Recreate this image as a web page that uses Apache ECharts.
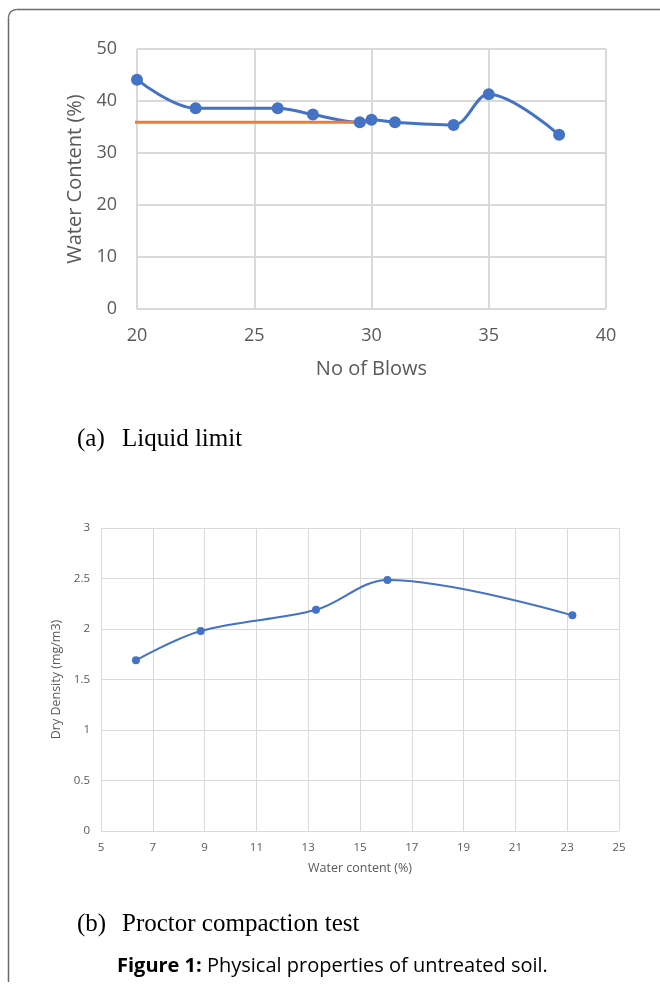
<!DOCTYPE html>
<html>
<head>
<meta charset="utf-8">
<script src="https://cdn.jsdelivr.net/npm/echarts@6/dist/echarts.min.js"></script>
<style>
html,body{margin:0;padding:0;background:#fff;}
#c{width:660px;height:985px;}
</style>
</head>
<body>
<div id="c"></div>
<script>
// Chart (a) Liquid limit
const blows = [20, 22.5, 26, 27.5, 29.5, 30, 31, 33.5, 35, 38];
const waterContentLL = [44.1, 38.6, 38.6, 37.4, 35.9, 36.4, 35.9, 35.4, 41.3, 33.5];
const liquidLimitLineX = [18.9, 29.8];
const liquidLimitValue = 35.9;

// Chart (b) Proctor compaction
const waterContentPC = [6.35, 8.85, 13.3, 16.06, 23.2];
const dryDensity = [1.69, 1.98, 2.19, 2.485, 2.135];

const blue = '#4472C4';
const orange = '#ED7D31';
const labelColor = '#595959';
const gridColor = '#d9d9d9';

const chart = echarts.init(document.getElementById('c'), null, {renderer: 'canvas'});

const option = {
  backgroundColor: '#fff',
  animation: false,
  grid: [
    {left: 137, top: 49, width: 469, height: 260},
    {left: 101, top: 528, width: 518, height: 303}
  ],
  xAxis: [
    {
      gridIndex: 0, type: 'value', min: 20, max: 40, interval: 5,
      name: 'No of Blows', nameLocation: 'middle', nameGap: 50,
      nameTextStyle: {fontFamily: 'Open Sans', fontSize: 20, color: labelColor},
      axisLine: {show: false}, axisTick: {show: false},
      axisLabel: {fontFamily: 'Open Sans', fontSize: 18, color: labelColor, margin: 18},
      splitLine: {show: true, lineStyle: {color: gridColor, width: 2}}
    },
    {
      gridIndex: 1, type: 'value', min: 5, max: 25, interval: 2,
      name: 'Water content (%)', nameLocation: 'middle', nameGap: 31,
      nameTextStyle: {fontFamily: 'Open Sans', fontSize: 12.5, color: labelColor},
      axisLine: {show: false}, axisTick: {show: false},
      axisLabel: {fontFamily: 'Open Sans', fontSize: 11.5, color: labelColor, margin: 11},
      splitLine: {show: true, lineStyle: {color: gridColor, width: 1}}
    }
  ],
  yAxis: [
    {
      gridIndex: 0, type: 'value', min: 0, max: 50, interval: 10,
      name: 'Water Content (%)', nameLocation: 'middle', nameGap: 49,
      nameTextStyle: {fontFamily: 'Open Sans', fontSize: 20, color: labelColor},
      axisLine: {show: false}, axisTick: {show: false},
      axisLabel: {fontFamily: 'Open Sans', fontSize: 18, color: labelColor, margin: 20},
      splitLine: {show: true, lineStyle: {color: gridColor, width: 2}}
    },
    {
      gridIndex: 1, type: 'value', min: 0, max: 3, interval: 0.5,
      name: 'Dry Density (mg/m3)', nameLocation: 'middle', nameGap: 32,
      nameTextStyle: {fontFamily: 'Open Sans', fontSize: 12.5, color: labelColor},
      axisLine: {show: false}, axisTick: {show: false},
      axisLabel: {fontFamily: 'Open Sans', fontSize: 11.5, color: labelColor, margin: 11},
      splitLine: {show: true, lineStyle: {color: gridColor, width: 1}}
    }
  ],
  series: [
    {
      type: 'line', xAxisIndex: 0, yAxisIndex: 0,
      data: blows.map((b, i) => [b, waterContentLL[i]]),
      smooth: 0.35,
      symbol: 'circle', symbolSize: 12,
      lineStyle: {color: blue, width: 3},
      itemStyle: {color: blue}
    },
    {
      type: 'line', xAxisIndex: 0, yAxisIndex: 0,
      data: liquidLimitLineX.map(x => [x, liquidLimitValue]),
      clip: false, symbol: 'none',
      lineStyle: {color: orange, width: 3}
    },
    {
      type: 'line', xAxisIndex: 1, yAxisIndex: 1,
      data: waterContentPC.map((w, i) => [w, dryDensity[i]]),
      smooth: 0.35,
      symbol: 'circle', symbolSize: 8,
      lineStyle: {color: blue, width: 2},
      itemStyle: {color: blue}
    }
  ],
  graphic: [
    {
      type: 'polyline',
      shape: {points: [[8.5, 982], [8.5, 17.5]]},
      style: {fill: null, stroke: '#6b6b6b', lineWidth: 1.5}
    },
    {
      type: 'polyline',
      shape: {points: [[16.5, 9.5], [662, 9.5]]},
      style: {fill: null, stroke: '#6b6b6b', lineWidth: 1.5}
    },
    {
      type: 'arc',
      shape: {cx: 16.5, cy: 17.5, r: 8, startAngle: Math.PI, endAngle: Math.PI * 1.5},
      style: {fill: null, stroke: '#6b6b6b', lineWidth: 1.5}
    },
    {
      type: 'text', left: 77, top: 427,
      style: {text: '(a)', font: '25px "Liberation Serif"', fill: '#000'}
    },
    {
      type: 'text', left: 122, top: 427,
      style: {text: 'Liquid limit', font: '25px "Liberation Serif"', fill: '#000'}
    },
    {
      type: 'text', left: 77, top: 912,
      style: {text: '(b)', font: '25px "Liberation Serif"', fill: '#000'}
    },
    {
      type: 'text', left: 122, top: 912,
      style: {text: 'Proctor compaction test', font: '25px "Liberation Serif"', fill: '#000'}
    },
    {
      type: 'text', left: 117, top: 956,
      style: {
        text: '{b|Figure 1:} Physical properties of untreated soil.',
        font: '20px "Open Sans"', fill: '#000',
        rich: {b: {fontWeight: 'bold', fontFamily: 'Open Sans', fontSize: 20, fill: '#000'}}
      }
    }
  ]
};
chart.setOption(option);
</script>
</body>
</html>
